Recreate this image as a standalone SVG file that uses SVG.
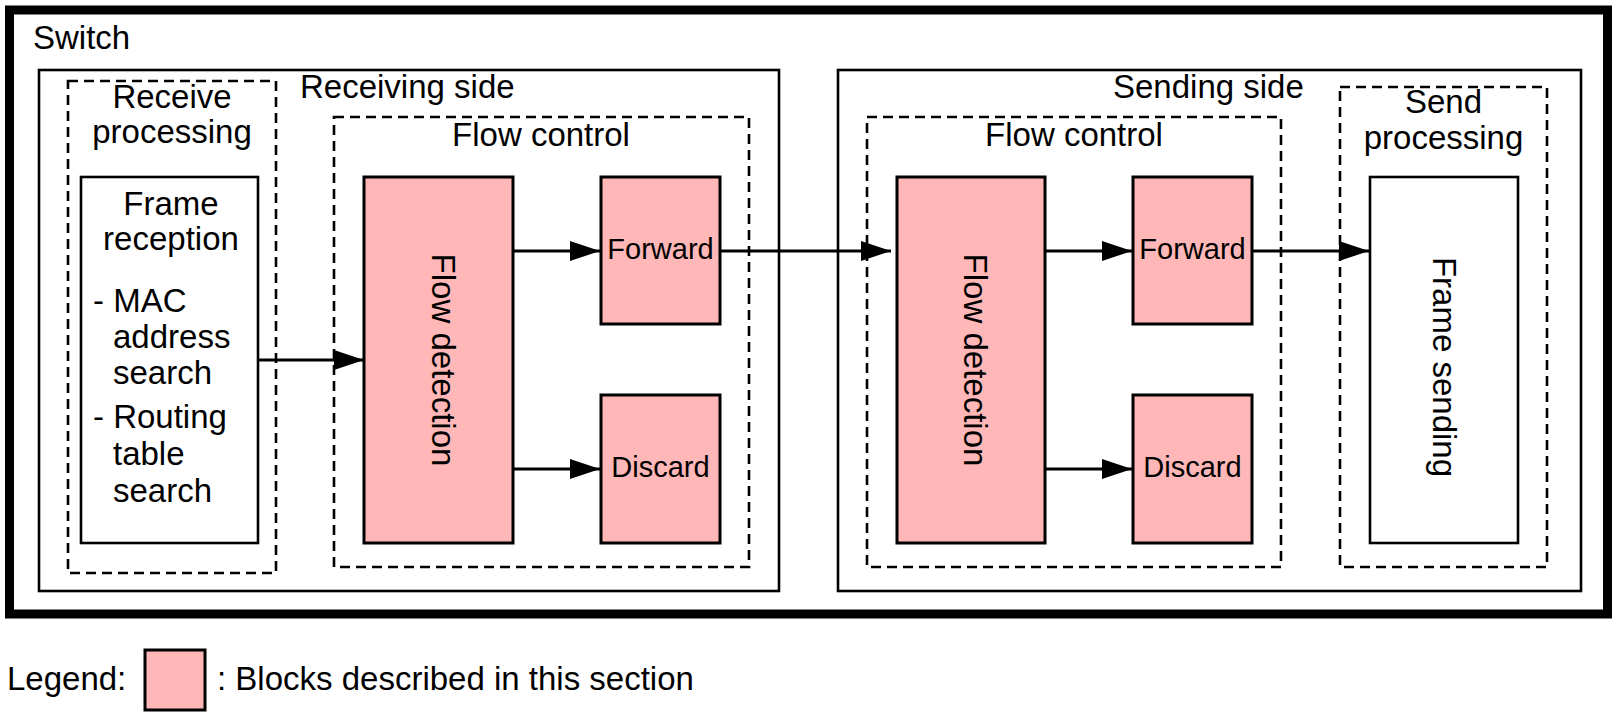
<svg xmlns="http://www.w3.org/2000/svg" width="1616" height="716" viewBox="0 0 1616 716">
  <style>
    text { font-family: "Liberation Sans", Arial, sans-serif; fill: #000; }
    .big { font-size: 33px; }
    .small { font-size: 29px; }
    .mid { text-anchor: middle; }
    .solid { fill: #fff; stroke: #000; stroke-width: 2.6; }
    .pink { fill: #FFB7B7; stroke: #000; stroke-width: 3; }
    .dash { fill: none; stroke: #000; stroke-width: 2.6; stroke-dasharray: 10 6; }
    .conn { fill: none; stroke: #000; stroke-width: 3; marker-end: url(#arrow); }
  </style>
  <defs>
    <marker id="arrow" viewBox="0 0 30 20" markerWidth="30" markerHeight="20" refX="30" refY="10" markerUnits="userSpaceOnUse" orient="auto">
      <path d="M0,0 L30,10 L0,20 Z" fill="#000"/>
    </marker>
  </defs>
  <rect width="1616" height="716" fill="#fff"/>

  <g id="switch">
    <rect x="9.5" y="10" width="1598" height="604" fill="#fff" stroke="#000" stroke-width="9"/>
    <text class="big" x="33" y="49">Switch</text>
  </g>

  <g id="receiving-side">
    <rect class="solid" x="39" y="70" width="740" height="521"/>
    <text class="big" x="300" y="98">Receiving side</text>
  </g>

  <g id="sending-side">
    <rect class="solid" x="838" y="70" width="743" height="521"/>
    <text class="big" x="1113" y="98">Sending side</text>
  </g>

  <g id="receive-processing">
    <rect class="dash" x="68" y="81" width="208" height="492"/>
    <text class="big mid" x="172" y="108">Receive</text>
    <text class="big mid" x="172" y="143">processing</text>
  </g>

  <g id="frame-reception">
    <rect class="solid" x="81" y="177" width="177" height="366"/>
    <text class="big mid" x="171" y="215">Frame</text>
    <text class="big mid" x="171" y="250">reception</text>
    <text class="big" x="93" y="312">- MAC</text>
    <text class="big" x="113" y="348">address</text>
    <text class="big" x="113" y="384">search</text>
    <text class="big" x="93" y="428">- Routing</text>
    <text class="big" x="113" y="465">table</text>
    <text class="big" x="113" y="502">search</text>
  </g>

  <g id="flow-control-left">
    <rect class="dash" x="334" y="117" width="415" height="450"/>
    <text class="big mid" x="541" y="146">Flow control</text>
  </g>

  <g id="flow-detection-left">
    <rect class="pink" x="364" y="177" width="149" height="366"/>
    <text class="big mid" transform="translate(432,360) rotate(90)">Flow detection</text>
  </g>

  <g id="forward-left">
    <rect class="pink" x="601" y="177" width="119" height="147"/>
    <text class="small mid" x="660.5" y="259">Forward</text>
  </g>

  <g id="discard-left">
    <rect class="pink" x="601" y="395" width="119" height="148"/>
    <text class="small mid" x="660.5" y="477">Discard</text>
  </g>

  <g id="flow-control-right">
    <rect class="dash" x="867" y="117" width="414" height="450"/>
    <text class="big mid" x="1074" y="146">Flow control</text>
  </g>

  <g id="flow-detection-right">
    <rect class="pink" x="897" y="177" width="148" height="366"/>
    <text class="big mid" transform="translate(964,360) rotate(90)">Flow detection</text>
  </g>

  <g id="forward-right">
    <rect class="pink" x="1133" y="177" width="119" height="147"/>
    <text class="small mid" x="1192.5" y="259">Forward</text>
  </g>

  <g id="discard-right">
    <rect class="pink" x="1133" y="395" width="119" height="148"/>
    <text class="small mid" x="1192.5" y="477">Discard</text>
  </g>

  <g id="send-processing">
    <rect class="dash" x="1340" y="87" width="207" height="480"/>
    <text class="big mid" x="1443.5" y="113">Send</text>
    <text class="big mid" x="1443.5" y="149">processing</text>
  </g>

  <g id="frame-sending">
    <rect class="solid" x="1370" y="177" width="148" height="366"/>
    <text class="big mid" transform="translate(1433,367) rotate(90)">Frame sending</text>
  </g>

  <g id="connectors">
    <line class="conn" x1="258" y1="360" x2="364" y2="360"/>
    <line class="conn" x1="513" y1="251" x2="600" y2="251"/>
    <line class="conn" x1="513" y1="469" x2="600" y2="469"/>
    <line class="conn" x1="720" y1="251" x2="891" y2="251"/>
    <line class="conn" x1="1045" y1="251" x2="1132" y2="251"/>
    <line class="conn" x1="1045" y1="469" x2="1132" y2="469"/>
    <line class="conn" x1="1252" y1="251" x2="1369" y2="251"/>
  </g>

  <g id="legend">
    <text class="big" x="7" y="690">Legend:</text>
    <rect class="pink" x="145" y="650" width="60" height="60"/>
    <text class="big" x="217" y="690">: Blocks described in this section</text>
  </g>
</svg>
